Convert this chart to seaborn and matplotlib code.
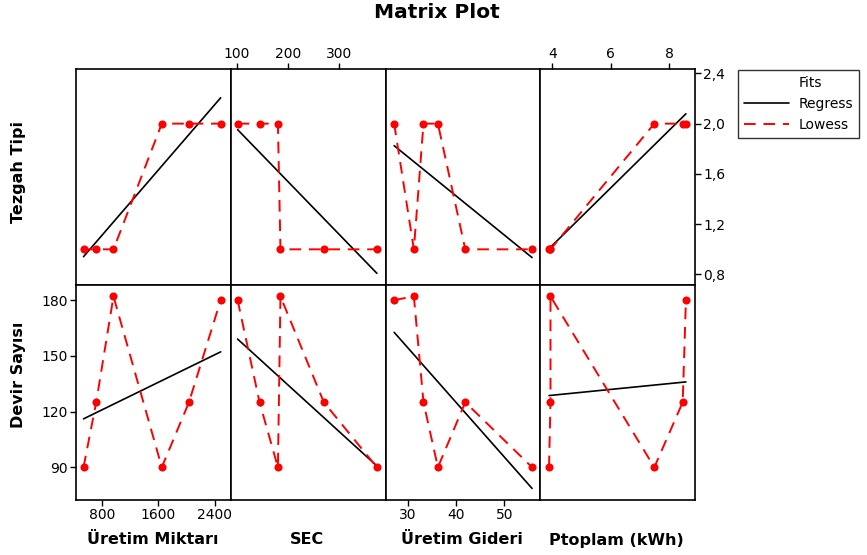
import numpy as np
import matplotlib
matplotlib.use("Agg")
import matplotlib.pyplot as plt
from matplotlib.lines import Line2D
from matplotlib.ticker import FuncFormatter
import seaborn as sns

uretim_miktari = [540, 720, 965, 1650, 2035, 2485]
tezgah_tipi = [1, 1, 1, 2, 2, 2]
devir_sayisi = [90, 125, 182, 90, 125, 180]
sec = [374, 270, 185, 180, 144, 101]
uretim_gideri = [55.8, 41.9, 31.2, 36.2, 33.2, 27.1]
ptoplam = [3.89, 3.94, 3.94, 7.49, 8.46, 8.57]

col_names = ["Üretim Miktarı", "SEC", "Üretim Gideri", "Ptoplam (kWh)"]
row_names = ["Tezgah Tipi", "Devir Sayısı"]
col_data = [uretim_miktari, sec, uretim_gideri, ptoplam]
row_data = [tezgah_tipi, devir_sayisi]

col_ticks = [[800, 1600, 2400], [100, 200, 300], [30, 40, 50], [4, 6, 8]]
col_lims = [(434, 2628), (87.6, 390.9), (25.3, 57.5), (3.59, 8.88)]
row_ticks = [[0.8, 1.2, 1.6, 2.0, 2.4], [90, 120, 150, 180]]
row_lims = [(0.719, 2.432), (72.4, 188.3)]

sns.set_theme(style="white")
plt.rcParams["font.family"] = ["DejaVu Sans"]
plt.rcParams["text.color"] = "black"
plt.rcParams["axes.labelcolor"] = "black"
plt.rcParams["xtick.color"] = "black"
plt.rcParams["ytick.color"] = "black"

fig, axes = plt.subplots(2, 4, figsize=(8.67, 5.55), dpi=100, sharex="col", sharey="row")
fig.subplots_adjust(left=0.0877, right=0.8016, top=0.8751, bottom=0.0991, wspace=0, hspace=0)

for r in range(2):
    for c in range(4):
        ax = axes[r, c]
        x = np.array(col_data[c], dtype=float)
        y = np.array(row_data[r], dtype=float)
        sns.regplot(x=x, y=y, ax=ax, scatter=False, ci=None, color="black",
                    line_kws={"lw": 1.2})
        sns.lineplot(x=x, y=y, ax=ax, estimator=None, sort=True, color="red",
                     lw=1.4, ls=(0, (6, 4)))
        sns.scatterplot(x=x, y=y, ax=ax, color="red", edgecolor="red", s=34,
                        linewidth=0, zorder=4)
        ax.set_xlabel("")
        ax.set_ylabel("")
        for sp in ax.spines.values():
            sp.set_color("black")
            sp.set_linewidth(1.2)
        ax.tick_params(axis="both", which="both", bottom=False, top=False, left=False,
                       right=False, labelbottom=False, labeltop=False, labelleft=False,
                       labelright=False, length=4, width=1, color="black",
                       labelsize=10, labelcolor="black", pad=2)

for c in range(4):
    axes[0, c].set_xlim(col_lims[c])
    axes[0, c].set_xticks(col_ticks[c])
    if c in (1, 3):
        axes[0, c].tick_params(axis="x", top=True, labeltop=True)
    else:
        axes[1, c].tick_params(axis="x", bottom=True, labelbottom=True)

for r in range(2):
    axes[r, 0].set_ylim(row_lims[r])
    axes[r, 0].set_yticks(row_ticks[r])

axes[0, 3].tick_params(axis="y", right=True, labelright=True)
axes[0, 3].yaxis.set_major_formatter(FuncFormatter(lambda v, p: f"{v:.1f}".replace(".", ",")))
axes[1, 0].tick_params(axis="y", left=True, labelleft=True)

# column / row titles
centers = [153, 307, 462, 616]
for c in range(4):
    fig.text(centers[c] / 867, 1 - 540 / 555, col_names[c], ha="center", va="center",
             fontsize=11.5, fontweight="bold")
fig.text(19 / 867, 1 - 172 / 555, row_names[0], rotation=90, ha="center", va="center",
         fontsize=11.5, fontweight="bold")
fig.text(19 / 867, 1 - 375 / 555, row_names[1], rotation=90, ha="center", va="center",
         fontsize=11.5, fontweight="bold")

fig.text(437 / 867, 1 - 13 / 555, "Matrix Plot", ha="center", va="center",
         fontsize=14.5, fontweight="bold")

handles = [Line2D([], [], color="none"),
           Line2D([], [], color="black", lw=1.2),
           Line2D([], [], color="red", lw=1.4, ls=(0, (6, 4)))]
leg = fig.legend(handles, ["Fits", "Regress", "Lowess"], loc="upper left",
                 bbox_to_anchor=(738 / 867, 1 - 70 / 555), frameon=True, fancybox=False,
                 fontsize=10, handlelength=3.2, handletextpad=0.7, labelspacing=0.5,
                 borderpad=0.45, borderaxespad=0)
leg.get_frame().set_edgecolor("black")
leg.get_frame().set_linewidth(1.0)

fig.savefig("out.png", dpi=100)
